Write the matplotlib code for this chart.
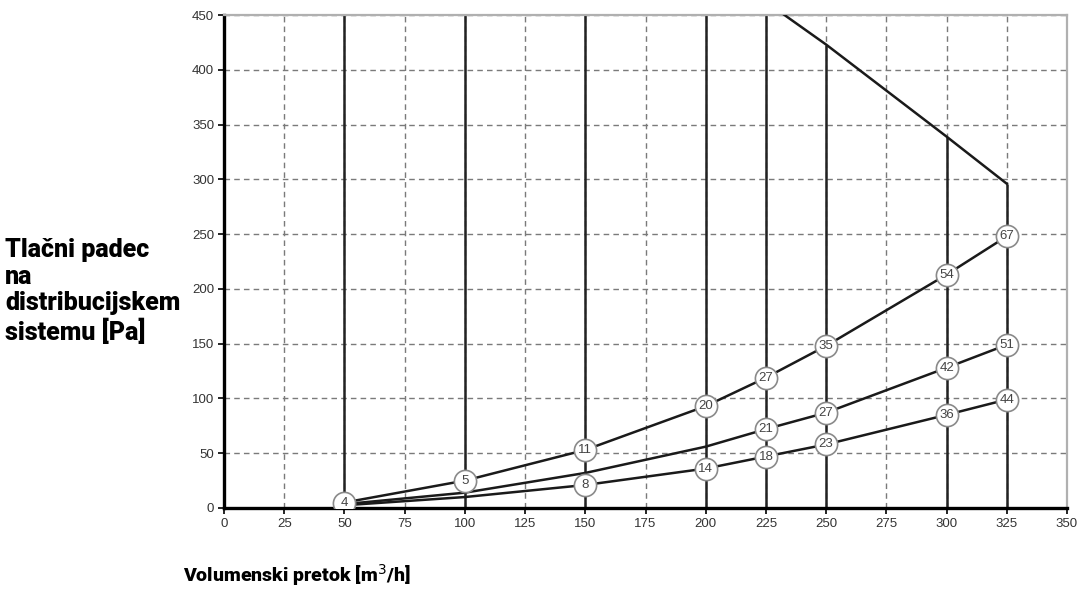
import matplotlib
matplotlib.use("Agg")
import matplotlib.pyplot as plt
import numpy as np

# ---------- data ----------
FLOW = [50, 100, 150, 200, 225, 250, 300, 325]

CURVE_TOP = [5, 25, 53, 93, 119, 148, 213, 248]
CURVE_MID = [3.5, 14, 32, 56, 72, 87, 128, 149]
CURVE_LOW = [2.5, 10, 21, 36, 47, 58, 85, 99]

# labelled points: (x, y, label)
LABELS_TOP = [(50, 5, "4"), (100, 25, "5"), (150, 53, "11"), (200, 93, "20"),
              (225, 119, "27"), (250, 148, "35"), (300, 213, "54"), (325, 248, "67")]
LABELS_MID = [(225, 72, "21"), (250, 87, "27"), (300, 128, "42"), (325, 149, "51")]
LABELS_LOW = [(150, 21, "8"), (200, 36, "14"), (225, 47, "18"), (250, 58, "23"),
              (300, 85, "36"), (325, 99, "44")]

# upper limit line
LIMIT_X = [225, 250, 300, 325]
LIMIT_Y = [462, 423, 339, 296]

# solid vertical lines (position, height)
VLINE_X = [50, 100, 150, 200, 225, 250, 300, 325]
VLINE_TOP = [450, 450, 450, 450, 450, 423, 339, 296]

X_TICKS = list(range(0, 351, 25))
Y_TICKS = list(range(0, 451, 50))

# ---------- style ----------
INK = "#1a1a1a"
TICK_TXT = "#333333"
GRID = "#7a7a7a"
FRAME_LIGHT = "#b0b0b0"

fig = plt.figure(figsize=(10.78, 5.90), dpi=100)
ax = fig.add_axes([224 / 1078, 1 - 508 / 590, 843 / 1078, 493 / 590])

ax.set_xlim(0, 350)
ax.set_ylim(0, 450)
ax.set_xticks(X_TICKS)
ax.set_yticks(Y_TICKS)

ax.grid(True, color=GRID, linestyle=(0, (4, 3)), linewidth=1.0, zorder=0)
ax.set_axisbelow(True)

for x, top in zip(VLINE_X, VLINE_TOP):
    ax.plot([x, x], [0, top], color="#222222", linewidth=1.8, zorder=2,
            solid_capstyle="butt")

ax.plot(LIMIT_X, LIMIT_Y, color=INK, linewidth=1.8, zorder=3, clip_on=True)

for ys in (CURVE_TOP, CURVE_MID, CURVE_LOW):
    ax.plot(FLOW, ys, color=INK, linewidth=1.8, zorder=3)

for x, y, t in LABELS_TOP + LABELS_MID + LABELS_LOW:
    ax.plot(x, y, marker="o", markersize=16, markerfacecolor="white",
            markeredgecolor="#8a8a8a", markeredgewidth=1.2, zorder=5)
    ax.text(x, y, t, ha="center", va="center", fontsize=9.5,
            family="Liberation Sans", color="#444444", zorder=6)

# ---------- frame ----------
for s in ("left", "bottom"):
    ax.spines[s].set_color("black")
    ax.spines[s].set_linewidth(2.4)
for s in ("top", "right"):
    ax.spines[s].set_color(FRAME_LIGHT)
    ax.spines[s].set_linewidth(1.6)

ax.tick_params(axis="both", length=4, width=1.2, color="black",
               labelsize=9.5, labelcolor=TICK_TXT, pad=3)
for lab in ax.get_xticklabels() + ax.get_yticklabels():
    lab.set_family("Liberation Sans")

# ---------- axis titles ----------
fig.text(5 / 1078, 1 - 238 / 590,
         "Tlačni padec\nna\ndistribucijskem\nsistemu [Pa]",
         ha="left", va="top", family="Roboto", fontweight="black",
         fontsize=18, linespacing=1.14, color="black")

fig.text(183 / 1078, 1 - 575 / 590, "Volumenski pretok [m$^{3}$/h]",
         ha="left", va="center", family="Roboto", fontweight="black",
         fontsize=14, color="black")

fig.savefig("out.png", dpi=100, facecolor="white")
